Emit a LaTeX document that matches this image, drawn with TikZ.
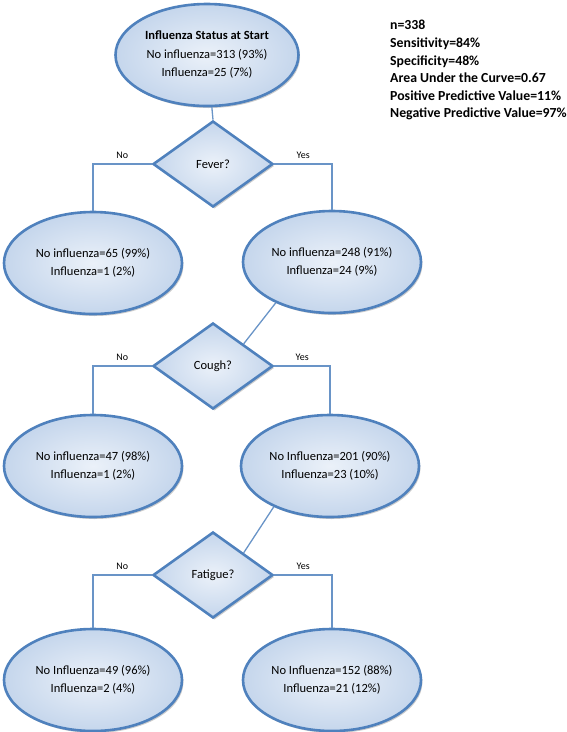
\documentclass[tikz,border=0pt]{standalone}
\usepackage{fontspec}
\setmainfont{Carlito}
\usetikzlibrary{shapes.geometric,shadows}
\definecolor{edgeblue}{HTML}{4F81BD}
\definecolor{fillin}{HTML}{EBF1F9}
\definecolor{fillout}{HTML}{C5D6EC}
\tikzset{
	oval/.style={ellipse, draw=edgeblue, line width=2.6pt, inner color=fillin, outer color=fillout,
		minimum width=178pt, minimum height=102pt, align=center, inner sep=0pt,
		font=\fontsize{12.5}{18.5}\selectfont,
		drop shadow={shadow xshift=1.5pt, shadow yshift=-2pt, fill=black, opacity=.2}},
	ask/.style={diamond, draw=edgeblue, line width=2.6pt, inner color=fillin, outer color=fillout,
		minimum width=120pt, minimum height=86pt, inner sep=0pt,
		font=\fontsize{12.5}{15}\selectfont,
		drop shadow={shadow xshift=1.5pt, shadow yshift=-2pt, fill=black, opacity=.2}},
	link/.style={draw=edgeblue!85, line width=1.3pt},
	tag/.style={above=1pt, font=\fontsize{10}{12}\selectfont}
}
\begin{document}
\begin{tikzpicture}[x=1pt, y=-1pt]
	\useasboundingbox (0,0) rectangle (567,732);

	\node[oval, minimum width=183pt] (start) at (207,55) {\textbf{Influenza Status at Start}\\No influenza=313 (93\%)\\Influenza=25 (7\%)};
	\node[anchor=north west, align=left, inner sep=0pt, font=\bfseries\fontsize{13.8}{17.5}\selectfont] (stats) at (390,19.5)
		{n=338\\[1pt]Sensitivity=84\%\\Specificity=48\%\\Area Under the Curve=0.67\\Positive Predictive Value=11\%\\Negative Predictive Value=97\%};

	\node[ask] (fever) at (213,164) {Fever?};
	\node[oval] (nofever) at (93,263) {No influenza=65 (99\%)\\Influenza=1 (2\%)};
	\node[oval] (yesfever) at (332,262) {No influenza=248 (91\%)\\Influenza=24 (9\%)};

	\node[ask] (cough) at (213,366) {Cough?};
	\node[oval] (nocough) at (93,466) {No influenza=47 (98\%)\\Influenza=1 (2\%)};
	\node[oval] (yescough) at (330,466) {No Influenza=201 (90\%)\\Influenza=23 (10\%)};

	\node[ask] (fatigue) at (213,575) {Fatigue?};
	\node[oval] (nofatigue) at (93,680) {No Influenza=49 (96\%)\\Influenza=2 (4\%)};
	\node[oval] (yesfatigue) at (332,680) {No Influenza=152 (88\%)\\Influenza=21 (12\%)};

	\draw[link] (start) -- (fever.north);
	\draw[link] (fever.west) -| node[tag, pos=.25] {No} (nofever.north);
	\draw[link] (fever.east) -| node[tag, pos=.25] {Yes} (yesfever.north);

	\draw[link] (yesfever.216) -- (cough.north east);
	\draw[link] (cough.west) -| node[tag, pos=.25] {No} (nocough.north);
	\draw[link] (cough.east) -| node[tag, pos=.25] {Yes} (yescough.north);

	\draw[link] (yescough.216) -- (fatigue.north east);
	\draw[link] (fatigue.west) -| node[tag, pos=.25] {No} (nofatigue.north);
	\draw[link] (fatigue.east) -| node[tag, pos=.25] {Yes} (yesfatigue.north);
\end{tikzpicture}
\end{document}
